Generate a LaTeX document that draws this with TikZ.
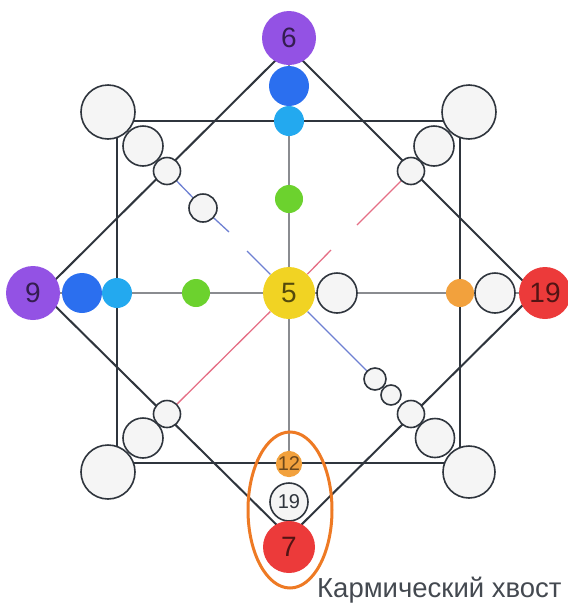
\documentclass[tikz,border=0pt]{standalone}
\usepackage{fontspec}
\setmainfont{Liberation Sans}
\usetikzlibrary{backgrounds}
\definecolor{cPurple}{HTML}{9352E4}
\definecolor{cBlue}{HTML}{2B6FEF}
\definecolor{cSky}{HTML}{23A9EF}
\definecolor{cGreen}{HTML}{6CD22E}
\definecolor{cSun}{HTML}{F1D323}
\definecolor{cRed}{HTML}{EC3A3A}
\definecolor{cAmber}{HTML}{F2A13D}
\definecolor{cTail}{HTML}{EE7A24}
\definecolor{cPale}{HTML}{F5F5F5}
\definecolor{cInk}{HTML}{2F353D}
\definecolor{cGrey}{HTML}{8A8C90}
\definecolor{cLilac}{HTML}{6E80D2}
\definecolor{cRose}{HTML}{E56F86}

\begin{document}
\begin{tikzpicture}[x=1pt,y=-1pt,
    big/.style={circle,inner sep=0pt,minimum size=54,fill=#1,text=#1!35!black,
      font=\fontsize{28}{28}\selectfont},
    bead/.style={circle,inner sep=0pt,fill=#1},
    ring/.style={circle,inner sep=0pt,draw=cInk,line width=1.6pt,fill=cPale},
    num/.style={font=\fontsize{20}{20}\selectfont}]
  \useasboundingbox (0,0) rectangle (568,603);
  % vertical arm
  \node[big=cPurple] (c6) at (289,38) {6};
  \node[bead=cBlue,minimum size=40] (vb1) at (289,86) {};
  \node[bead=cSky,minimum size=30] (vb2) at (289,121) {};
  \node[bead=cGreen,minimum size=28] (vb3) at (289,199) {};
  % horizontal arm
  \node[big=cPurple] (c9) at (33,293) {9};
  \node[bead=cBlue,minimum size=40] (hb1) at (82,293) {};
  \node[bead=cSky,minimum size=30] (hb2) at (117,293) {};
  \node[bead=cGreen,minimum size=28] (hb3) at (196,293) {};
  \node[big=cSun,minimum size=52] (c5) at (289,293) {5};
  \node[ring,minimum size=40] (hw1) at (337,293) {};
  \node[bead=cAmber,minimum size=28] (ho1) at (460,293) {};
  \node[ring,minimum size=40] (hw2) at (495,293) {};
  \node[big=cRed,minimum size=52] (c19) at (545,293) {19};
  % tail
  \node[bead=cAmber,minimum size=26,num,text=cAmber!45!black] (c12) at (289,464) {12};
  \node[ring,minimum size=38,num,text=cInk] (t19) at (289,502) {19};
  \node[big=cRed,minimum size=52] (c7) at (289,547) {7};
  % corners
  \foreach \p/\d [count=\i] in {(108,112)/54,(143,146)/40,(167,171)/27,(203,208)/28}
    \node[ring,minimum size=\d] (tl\i) at \p {};
  \foreach \p/\d [count=\i] in {(469,112)/54,(434,146)/40,(411,171)/27}
    \node[ring,minimum size=\d] (tr\i) at \p {};
  \foreach \p/\d [count=\i] in {(108,472)/54,(143,438)/40,(167,414)/27}
    \node[ring,minimum size=\d] (bl\i) at \p {};
  \foreach \p/\d [count=\i] in {(469,472)/52,(435,438)/39,(411,414)/27,(391,395)/20,(375,379)/22}
    \node[ring,minimum size=\d] (br\i) at \p {};
  \coordinate (dT) at (289,47);
  \coordinate (dR) at (535,293);
  \coordinate (dB) at (289,537);
  \coordinate (dL) at (42,293);
  \coordinate (tlA) at (229,232);
  \coordinate (tlB) at (247,251);
  \coordinate (trA) at (357,225);
  \coordinate (trB) at (331,250);
  \begin{scope}[on background layer]
    \draw[cGrey,line width=1.5pt] (c6) -- (c12);
    \draw[cGrey,line width=1.5pt] (c9) -- (c19);
    \draw[cInk,line width=2pt] (117,121) rectangle (460,463);
    \draw[cInk,line width=2pt] (dT) -- (dR) -- (dB) -- (dL) -- cycle;
    \draw[cLilac,line width=1.3pt] (tl3) -- (tl4) -- (tlA) (tlB) -- (c5);
    \draw[cLilac,line width=1.3pt] (c5) -- (br5);
    \draw[cRose,line width=1.3pt] (tr3) -- (trA) (trB) -- (c5);
    \draw[cRose,line width=1.3pt] (c5) -- (bl3);
  \end{scope}
  \draw[cTail,line width=3pt] (290,510) ellipse [x radius=42,y radius=78];
  \node[anchor=base west,inner sep=0pt,text=cInk!90,font=\fontsize{27.5}{27.5}\selectfont]
    (lbl) at (317,597) {Кармический хвост};
\end{tikzpicture}
\end{document}
